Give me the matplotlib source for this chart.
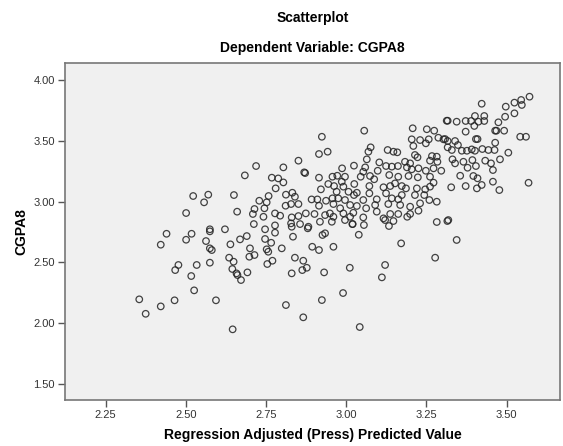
import matplotlib
matplotlib.use("Agg")
import matplotlib.pyplot as plt

plt.rcParams['font.family'] = ['Liberation Sans', 'DejaVu Sans']

title = "Scatterplot"
subtitle = "Dependent Variable: CGPA8"
x_label = "Regression Adjusted (Press) Predicted Value"
y_label = "CGPA8"
x_ticks = [2.25, 2.50, 2.75, 3.00, 3.25, 3.50]
y_ticks = [1.50, 2.00, 2.50, 3.00, 3.50, 4.00]

predicted = [
    2.523, 2.570, 2.557, 2.501, 2.575,
    2.440, 2.518, 2.575, 2.422, 2.501, 2.563, 2.575, 2.581, 2.477, 2.467, 2.534, 2.575, 2.517, 2.526, 2.355, 2.422, 2.465, 2.375, 2.594,
    2.924, 2.915, 2.942, 2.851, 2.719, 2.804, 2.869, 2.872, 2.684, 2.768, 2.788, 2.804, 2.915, 2.957, 2.780, 2.921, 2.944,
    2.650, 2.758, 2.812, 2.832, 2.840, 2.729, 2.752, 2.811, 2.828, 2.851, 2.892, 2.910, 2.915, 2.937, 2.957,
    2.660, 2.714, 2.745, 2.709, 2.778, 2.794, 2.742, 2.830, 2.851, 2.874, 2.901, 2.934, 2.949, 2.960,
    2.712, 2.778, 2.828, 2.856, 2.830, 2.882, 2.918, 2.955, 2.622, 2.747,
    2.880, 2.778, 2.926, 2.934, 2.690, 2.669, 2.747, 2.834, 2.639, 2.766, 2.700, 2.752, 2.757, 2.799, 2.894, 2.915, 2.960,
    2.714, 2.698, 2.635, 2.649, 2.840, 2.866, 2.770, 2.754, 2.645, 2.658, 2.661, 2.672, 2.692, 2.830, 2.863, 2.877, 2.931,
    2.812, 2.924, 2.866, 2.646,
    2.996, 3.019, 3.055, 3.121, 3.133, 3.147, 3.282, 3.315, 3.039, 3.171, 3.277, 3.011, 3.121, 3.111, 2.990, 3.042,
    3.344,
    3.571, 3.545, 3.524, 3.547, 3.422, 3.497, 3.524, 3.495, 3.401, 3.430, 3.474, 3.316, 3.344, 3.372, 3.389, 3.412, 3.430,
    3.399, 3.372, 3.464, 3.468, 3.492, 3.542, 3.560, 3.404, 3.409, 3.308, 3.464, 3.316, 3.339, 3.316, 3.348, 3.329,
    3.360, 3.376, 3.391, 3.401, 3.424, 3.443, 3.462, 3.505, 3.331, 3.339, 3.365, 3.393, 3.433, 3.451, 3.479,
    3.378, 3.404, 3.457, 3.355, 3.396, 3.409, 3.457, 3.422, 3.327, 3.372, 3.407, 3.477, 3.568, 3.318,
    3.313, 3.056, 3.207, 3.251, 3.274, 3.204, 3.230, 3.257, 3.248, 3.287, 3.303, 3.209, 3.076, 3.069, 3.129, 3.147,
    3.159, 3.214, 3.222, 3.267, 3.282, 3.064, 3.183, 3.199, 3.261, 3.284, 3.103, 3.024, 3.059, 2.987, 3.124, 3.142,
    3.161, 3.189, 3.204, 3.225, 3.248, 3.272, 3.296, 3.053, 3.098, 3.074, 3.087, 3.045, 2.996, 2.972, 3.134, 3.162,
    3.194, 3.223, 3.261, 3.272, 2.986, 2.962, 2.991, 3.025, 3.072, 3.116, 3.137, 3.152, 3.173, 3.186, 3.220, 3.246,
    3.261, 2.970, 3.007, 3.033, 3.024, 3.072, 3.124, 3.173, 3.214, 3.243, 2.975, 2.996, 3.053, 3.095, 3.142, 3.162,
    3.259, 3.282, 2.960, 3.012, 3.033, 3.090, 3.131, 3.168, 3.199, 3.230, 2.981, 3.062, 3.095, 3.022, 2.991, 3.137,
    3.162, 3.199, 3.225, 3.012, 3.053, 3.116, 3.190, 3.020,
]

cgpa = [
    3.047, 3.058, 2.995, 2.907, 2.773,
    2.736, 2.736, 2.756, 2.646, 2.687, 2.676, 2.616, 2.602, 2.479, 2.437, 2.479, 2.498, 2.388, 2.270, 2.196, 2.138, 2.188, 2.077, 2.188,
    3.535, 3.393, 3.412, 3.338, 3.294, 3.283, 3.242, 3.236, 3.217, 3.198, 3.192, 3.159, 3.198, 3.206, 3.110, 3.102, 3.146,
    3.055, 3.047, 3.058, 3.074, 3.041, 3.008, 2.995, 2.967, 2.981, 2.981, 3.019, 3.019, 2.967, 3.008, 3.028,
    2.918, 2.940, 2.946, 2.899, 2.904, 2.885, 2.876, 2.871, 2.882, 2.904, 2.899, 2.890, 2.904, 2.876,
    2.816, 2.805, 2.822, 2.816, 2.794, 2.794, 2.835, 2.835, 2.773, 2.773,
    2.781, 2.745, 2.726, 2.740, 2.717, 2.690, 2.693, 2.712, 2.649, 2.662, 2.616, 2.608, 2.588, 2.616, 2.629, 2.602, 2.629,
    2.561, 2.547, 2.539, 2.506, 2.539, 2.514, 2.514, 2.487, 2.446, 2.410, 2.396, 2.355, 2.418, 2.410, 2.437, 2.456, 2.418,
    2.149, 2.190, 2.048, 1.949,
    2.849, 2.816, 2.808, 2.849, 2.800, 2.841, 2.833, 2.841, 2.728, 2.657, 2.539, 2.456, 2.479, 2.377, 2.248, 1.968,
    2.685,
    3.865, 3.838, 3.816, 3.797, 3.807, 3.783, 3.728, 3.700, 3.706, 3.706, 3.654, 3.667, 3.659, 3.665, 3.665, 3.659, 3.665,
    3.624, 3.577, 3.585, 3.585, 3.585, 3.535, 3.535, 3.516, 3.516, 3.516, 3.486, 3.500, 3.500, 3.448, 3.467, 3.426,
    3.420, 3.420, 3.431, 3.420, 3.434, 3.426, 3.426, 3.404, 3.349, 3.316, 3.329, 3.343, 3.338, 3.316, 3.349,
    3.280, 3.294, 3.261, 3.214, 3.212, 3.193, 3.165, 3.138, 3.119, 3.129, 3.110, 3.096, 3.156, 2.849,
    3.667, 3.585, 3.605, 3.597, 3.585, 3.514, 3.508, 3.514, 3.481, 3.527, 3.514, 3.459, 3.448, 3.412, 3.426, 3.412,
    3.407, 3.385, 3.366, 3.376, 3.371, 3.349, 3.329, 3.316, 3.338, 3.329, 3.324, 3.297, 3.283, 3.275, 3.294, 3.289,
    3.294, 3.283, 3.267, 3.275, 3.255, 3.275, 3.255, 3.247, 3.255, 3.212, 3.185, 3.206, 3.206, 3.214, 3.220, 3.206,
    3.212, 3.201, 3.206, 3.157, 3.165, 3.129, 3.124, 3.146, 3.129, 3.119, 3.129, 3.151, 3.129, 3.110, 3.110, 3.102,
    3.124, 3.082, 3.082, 3.074, 3.055, 3.069, 3.069, 3.055, 3.055, 3.055, 3.028, 3.014, 3.014, 3.020, 3.028, 3.020,
    3.014, 3.000, 2.981, 2.973, 2.965, 2.973, 2.981, 2.973, 2.959, 2.987, 2.946, 2.946, 2.918, 2.909, 2.904, 2.899,
    2.899, 2.899, 2.926, 2.876, 2.871, 2.863, 2.876, 2.816,
]

W, H = 563, 446
fig = plt.figure(figsize=(W / 100, H / 100), dpi=100)
fig.patch.set_facecolor('white')
ax = fig.add_axes([64.8 / W, 1 - 400 / H, (560 - 64.8) / W, (400 - 62.7) / H])
ax.set_facecolor('#F0F0F0')

ax.scatter(predicted, cgpa, s=22, facecolors='none', edgecolors='#222222',
           linewidths=0.9, alpha=0.85, zorder=3)

ax.set_xlim(2.123, 3.666)
ax.set_ylim(1.367, 4.145)
ax.set_xticks(x_ticks)
ax.set_xticklabels([f"{t:.2f}" for t in x_ticks])
ax.set_yticks(y_ticks)
ax.set_yticklabels([f"{t:.2f}" for t in y_ticks])
ax.tick_params(direction='out', length=5, width=1, color='#555555',
               labelsize=8, labelcolor='#333333', pad=2)
for sp in ax.spines.values():
    sp.set_color('#777777')
    sp.set_linewidth(1.2)

ax.set_xlabel(x_label, fontsize=10, fontweight='bold', labelpad=6)
ax.set_ylabel(y_label, fontsize=10, fontweight='bold', labelpad=4)

cx = (64.8 + 560) / 2 / W
fig.text(cx, 1 - 18 / H, title, ha='center', va='center', fontsize=10, fontweight='bold')
fig.text(cx, 1 - 48 / H, subtitle, ha='center', va='center', fontsize=10, fontweight='bold')

fig.savefig('out.png', dpi=100)
